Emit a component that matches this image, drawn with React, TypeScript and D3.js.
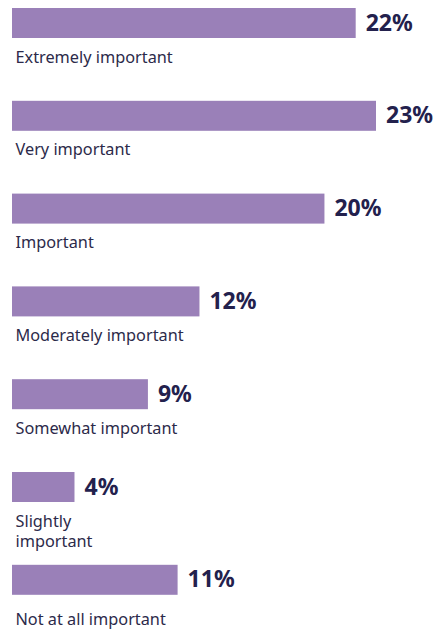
import React from "react";
import * as d3 from "d3";

const categories = [
  "Extremely important",
  "Very important",
  "Important",
  "Moderately important",
  "Somewhat important",
  "Slightly important",
  "Not at all important",
];
const labelLines = [
  ["Extremely important"],
  ["Very important"],
  ["Important"],
  ["Moderately important"],
  ["Somewhat important"],
  ["Slightly", "important"],
  ["Not at all important"],
];
const values = [22, 23.3, 20, 12, 8.7, 4, 10.6];
const valueLabels = ["22%", "23%", "20%", "12%", "9%", "4%", "11%"];

const W = 435;
const H = 629;
const BAR_H = 30;
const LEFT = 12;

export default function App() {
  const x = d3.scaleLinear().domain([0, 23.3]).range([0, 364]);
  const y = d3
    .scaleBand<string>()
    .domain(categories)
    .range([8, 8 + 92.8 * categories.length])
    .paddingInner(0);

  return (
    <svg
      width={W}
      height={H}
      style={{ position: "absolute", left: 0, top: 0 }}
      fontFamily="'Noto Sans', 'Open Sans', sans-serif"
    >
      {categories.map((c, i) => {
        const top = y(c)!;
        const w = x(values[i]);
        const last = i === categories.length - 1;
        return (
          <g key={c}>
            <rect x={LEFT} y={top} width={w} height={BAR_H} fill="#9a80b8" />
            <text
              x={LEFT + w + 10}
              y={top + BAR_H / 2 + 7.5}
              fontSize={23}
              fontWeight={700}
              fill="#23214d"
            >
              {valueLabels[i]}
            </text>
            <text x={15.5} y={top + (last ? 60 : 54.5)} fontSize={16.3} fill="#2c2a4a">
              {labelLines[i].map((l, j) => (
                <tspan key={j} x={15.5} dy={j === 0 ? 0 : 20.5}>
                  {l}
                </tspan>
              ))}
            </text>
          </g>
        );
      })}
    </svg>
  );
}
